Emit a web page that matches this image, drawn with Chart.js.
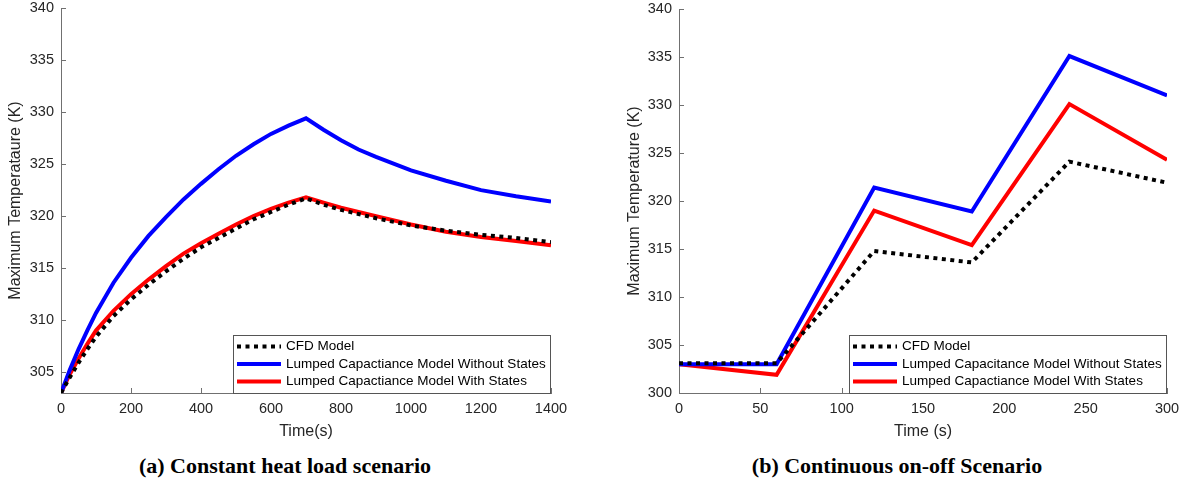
<!DOCTYPE html>
<html><head><meta charset="utf-8">
<script src="https://cdn.jsdelivr.net/npm/chart.js@4.4.0/dist/chart.umd.min.js"></script>
<style>
html,body{margin:0;padding:0;background:#fff;width:1189px;height:493px;overflow:hidden;}
#wrapA{position:absolute;left:0;top:0;width:600px;height:445px;}
#wrapB{position:absolute;left:620px;top:0;width:569px;height:445px;}
.cap{position:absolute;top:453px;font-family:"Liberation Serif","Times New Roman",serif;font-weight:bold;font-size:22px;line-height:normal;color:#000;white-space:nowrap;transform:translateX(-50%);}
</style></head><body>
<div id="wrapA"><canvas id="cA"></canvas></div>
<div id="wrapB"><canvas id="cB"></canvas></div>
<div class="cap" id="capA" style="left:285px"></div>
<div class="cap" id="capB" style="left:897px"></div>
<script>
// ---------- data: (a) constant heat load ----------
const seriesNamesA = ['CFD Model', 'Lumped Capactiance Model Without States', 'Lumped Capactiance Model With States'];
const timeA      = [0, 25, 50, 75, 100, 150, 200, 250, 300, 350, 400, 450, 500, 550, 600, 650, 700, 750, 800, 850, 900, 1000, 1100, 1200, 1300, 1400];
const cfdA       = [303.0, 304.5, 305.9, 307.2, 308.4, 310.4, 312.0, 313.4, 314.7, 315.9, 317.0, 317.9, 318.8, 319.7, 320.4, 321.1, 321.7, 321.1, 320.6, 320.2, 319.8, 319.1, 318.6, 318.2, 317.9, 317.5];
const noStatesA  = [303.0, 305.2, 307.2, 309.0, 310.7, 313.6, 316.0, 318.1, 319.9, 321.6, 323.1, 324.5, 325.8, 326.9, 327.9, 328.7, 329.4, 328.3, 327.3, 326.4, 325.7, 324.4, 323.4, 322.5, 321.9, 321.4];
const withStatesA= [303.0, 304.8, 306.3, 307.7, 309.0, 310.9, 312.5, 313.9, 315.2, 316.4, 317.4, 318.3, 319.2, 320.0, 320.7, 321.3, 321.8, 321.3, 320.8, 320.4, 320.0, 319.2, 318.5, 318.0, 317.6, 317.2];
const xTicksA = [0, 200, 400, 600, 800, 1000, 1200, 1400];
const yTicksA = [305, 310, 315, 320, 325, 330, 335, 340];
const xTitleA = 'Time(s)';
const yTitleA = 'Maximum Temperataure (K)';
const captionA = '(a) Constant heat load scenario';

// ---------- data: (b) continuous on-off ----------
const seriesNamesB = ['CFD Model', 'Lumped Capacitance Model Without States', 'Lumped Capactiance Model With States'];
const timeB       = [0, 60, 120, 180, 240, 300];
const cfdB        = [303.1, 303.1, 314.8, 313.6, 324.1, 321.9];
const noStatesB   = [303.0, 303.0, 321.4, 318.9, 335.1, 331.0];
const withStatesB = [303.0, 301.9, 319.0, 315.4, 330.1, 324.3];
const xTicksB = [0, 50, 100, 150, 200, 250, 300];
const yTicksB = [300, 305, 310, 315, 320, 325, 330, 335, 340];
const xTitleB = 'Time (s)';
const yTitleB = 'Maximum Temperature (K)';
const captionB = '(b) Continuous on-off Scenario';

document.getElementById('capA').textContent = captionA;
document.getElementById('capB').textContent = captionB;

Chart.defaults.font.family = '"Liberation Sans", Arial, Helvetica, sans-serif';
Chart.defaults.color = '#262626';

const AXIS = '#707070';

const inwardTicks = {
  id: 'inwardTicks',
  beforeDatasetsDraw(chart) {
    const ctx = chart.ctx, ca = chart.chartArea;
    const xs = chart.scales.x, ys = chart.scales.y;
    ctx.save();
    ctx.strokeStyle = AXIS; ctx.lineWidth = 1;
    ctx.beginPath();
    xs.ticks.forEach(t => {
      const px = Math.round(xs.getPixelForValue(t.value)) + 0.5;
      ctx.moveTo(px, ca.bottom); ctx.lineTo(px, ca.bottom - 5);
    });
    ys.ticks.forEach(t => {
      const py = Math.round(ys.getPixelForValue(t.value)) + 0.5;
      ctx.moveTo(ca.left, py); ctx.lineTo(ca.left + 5, py);
    });
    ctx.stroke();
    ctx.restore();
  }
};

function boxLegend(names) {
  return {
    id: 'boxLegend',
    afterDatasetsDraw(chart) {
      const ctx = chart.ctx, ca = chart.chartArea;
      const w = 317, h = 58;
      const right = Math.round(ca.right) - 1, bottom = Math.round(ca.bottom);
      const left = right - w, top = bottom - h;
      ctx.save();
      ctx.fillStyle = '#fff';
      ctx.fillRect(left, top, w, h);
      ctx.strokeStyle = '#555'; ctx.lineWidth = 1;
      ctx.strokeRect(left + 0.5, top + 0.5, w, h);
      const mid = top + h / 2;
      chart.data.datasets.forEach((ds, i) => {
        const y = mid + (i - 1) * 17.5;
        ctx.strokeStyle = ds.borderColor; ctx.lineWidth = ds.borderWidth;
        ctx.setLineDash(ds.borderDash || []);
        ctx.lineCap = 'butt';
        ctx.beginPath(); ctx.moveTo(left + 4, y); ctx.lineTo(left + 48, y); ctx.stroke();
        ctx.setLineDash([]);
        ctx.fillStyle = '#000';
        ctx.font = '13.5px "Liberation Sans", Arial, sans-serif';
        ctx.textBaseline = 'middle'; ctx.textAlign = 'left';
        ctx.fillText(names[i], left + 53, y);
      });
      ctx.restore();
    }
  };
}

function pts(xs, ys) { return xs.map((x, i) => ({ x: x, y: ys[i] })); }

const hiddenGridX = { display: true, drawOnChartArea: false, drawTicks: true, tickLength: 8, color: 'rgba(0,0,0,0)' };
const hiddenGridY = { display: true, drawOnChartArea: false, drawTicks: true, tickLength: 7, color: 'rgba(0,0,0,0)' };

function makeChart(id, cfg) {
  const datasets = [
    { label: cfg.names[0], data: pts(cfg.time, cfg.cfd), borderColor: '#000000', borderWidth: 4, borderDash: [4, 4.5] },
    { label: cfg.names[1], data: pts(cfg.time, cfg.noStates), borderColor: '#0000ff', borderWidth: 4 },
    { label: cfg.names[2], data: pts(cfg.time, cfg.withStates), borderColor: '#ff0000', borderWidth: 4 }
  ];
  datasets.forEach(d => { d.pointRadius = 0; d.tension = 0; d.fill = false; d.borderCapStyle = 'butt'; d.borderJoinStyle = 'miter'; });
  return new Chart(document.getElementById(id), {
    type: 'line',
    data: { datasets },
    plugins: [inwardTicks, boxLegend(cfg.names)],
    options: {
      responsive: true, maintainAspectRatio: false, animation: false,
      layout: { padding: cfg.padding },
      plugins: { legend: { display: false }, tooltip: { enabled: false } },
      scales: {
        x: {
          type: 'linear', min: cfg.xMin, max: cfg.xMax,
          afterBuildTicks: s => { s.ticks = cfg.xTicks.map(v => ({ value: v })); },
          afterFit: s => { s.height = 52; },
          grid: hiddenGridX,
          border: { display: true, color: AXIS, width: 1 },
          ticks: { font: { size: 14.5, lineHeight: 1.1 }, padding: 0, color: '#262626', maxRotation: 0, autoSkip: false, callback: v => String(v) },
          title: { display: true, text: cfg.xTitle, font: { size: 16 }, color: '#262626', padding: { top: 0, bottom: 4 } }
        },
        y: {
          type: 'linear', min: cfg.yMin, max: cfg.yMax,
          afterBuildTicks: s => { s.ticks = cfg.yTicks.map(v => ({ value: v })); },
          afterFit: s => { s.width = cfg.yWidth; },
          grid: hiddenGridY,
          border: { display: true, color: AXIS, width: 1 },
          ticks: { font: { size: 14.5, lineHeight: 1.1 }, padding: 0, color: '#262626', autoSkip: false, callback: v => String(v) },
          title: { display: true, text: cfg.yTitle, font: { size: 16 }, color: '#262626', padding: { top: cfg.yTitlePad, bottom: 0 } }
        }
      }
    }
  });
}

makeChart('cA', {
  names: seriesNamesA, time: timeA, cfd: cfdA, noStates: noStatesA, withStates: withStatesA,
  xMin: 0, xMax: 1400, yMin: 303, yMax: 340, xTicks: xTicksA, yTicks: yTicksA,
  xTitle: xTitleA, yTitle: yTitleA, yWidth: 61, yTitlePad: 6,
  padding: { left: 0, top: 8, right: 49, bottom: 0 }
});
makeChart('cB', {
  names: seriesNamesB, time: timeB, cfd: cfdB, noStates: noStatesB, withStates: withStatesB,
  xMin: 0, xMax: 300, yMin: 300, yMax: 340, xTicks: xTicksB, yTicks: yTicksB,
  xTitle: xTitleB, yTitle: yTitleB, yWidth: 59, yTitlePad: 5,
  padding: { left: 0, top: 9, right: 22, bottom: 0 }
});
</script>
</body></html>
